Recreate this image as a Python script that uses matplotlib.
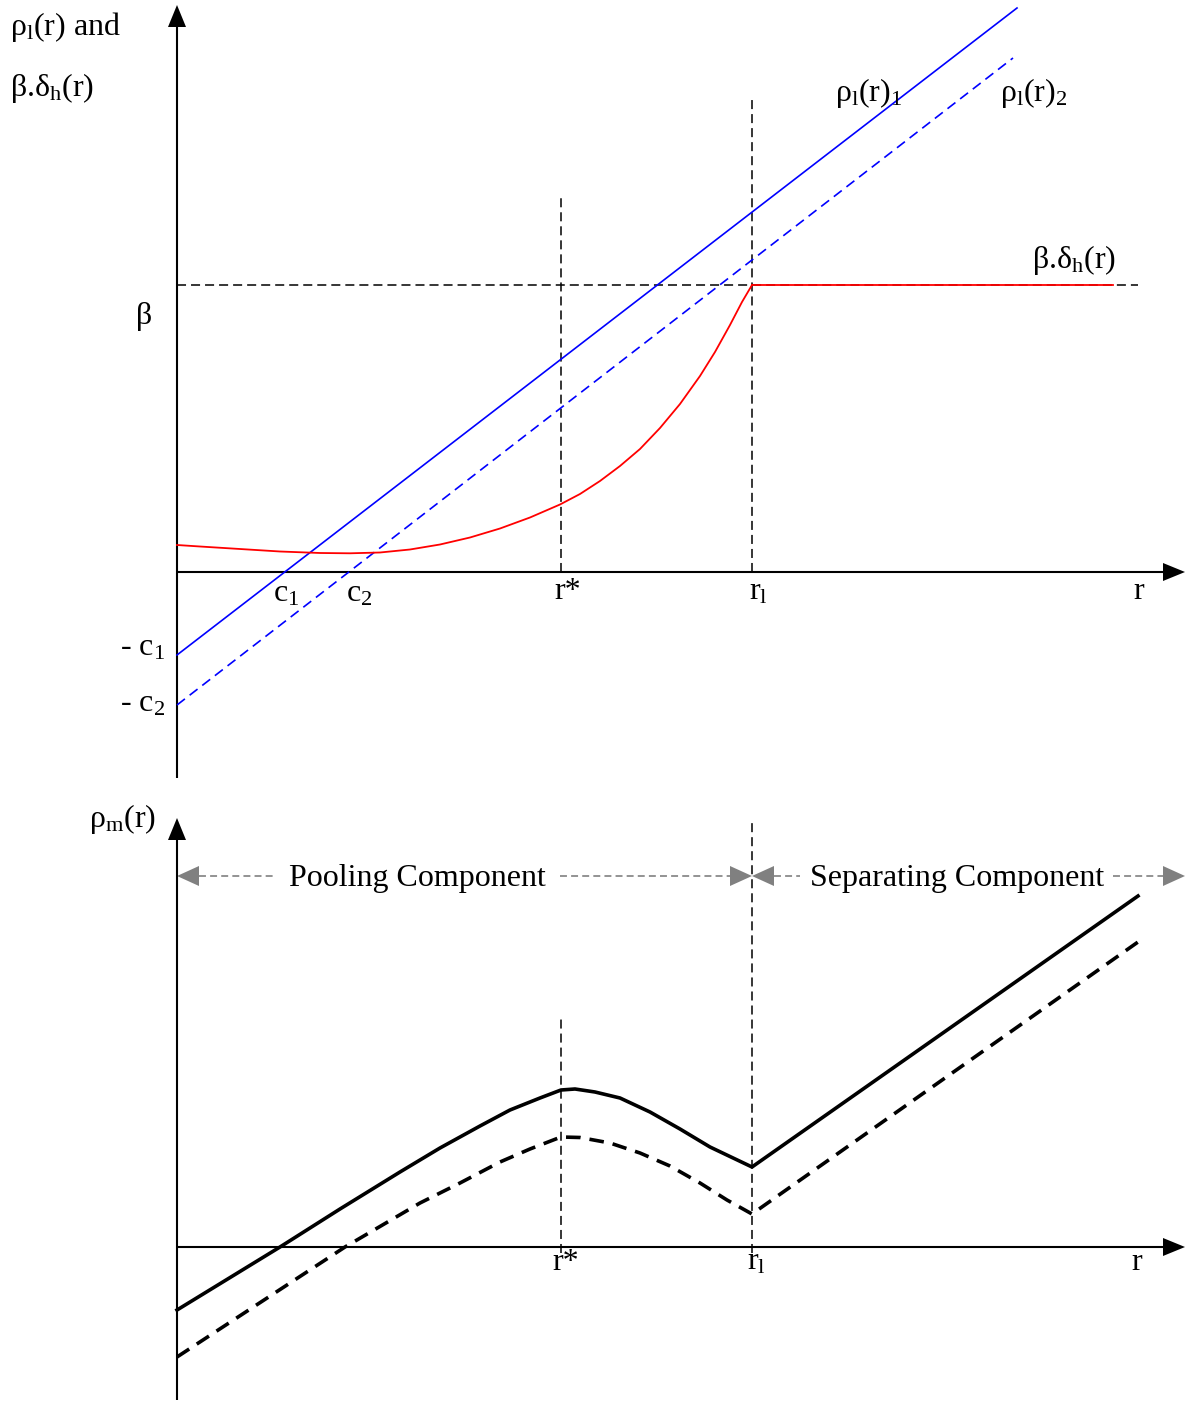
import matplotlib
matplotlib.use("Agg")
import matplotlib.pyplot as plt
import numpy as np
from matplotlib.patches import Polygon

plt.rcParams['font.family'] = ['Liberation Serif', 'DejaVu Serif']
plt.rcParams['mathtext.fontset'] = 'custom'
plt.rcParams['mathtext.rm'] = 'Liberation Serif'
plt.rcParams['mathtext.it'] = 'Liberation Serif:italic'
plt.rcParams['lines.scale_dashes'] = False

# ---------------- data (top panel, units relative to origin) ----------------
c1 = 108
c2 = 172
r_star = 384
r_l = 575
r_end = 961
beta = 287
rho1_r = [0, 840]
rho1_y = [-83, 564]
rho2_r = [0, 836]
rho2_y = [-133, 514]
delta_r = [0, 23, 63, 103, 143, 173, 203, 233, 263, 293, 323, 353, 383, 403,
           423, 443, 463, 483, 503, 523, 538, 553, 565, 575]
delta_y = [27, 25.5, 23, 20.5, 19, 18.7, 19.5, 22.5, 27.5, 34.5, 43.5, 54.5, 67.5, 78,
           91, 106, 123, 144, 168, 196, 220, 247, 270, 287]
delta_flat_r = [575, 936]
delta_flat_y = [287, 287]

# ---------------- data (bottom panel) ----------------
m1_r = [0, 103, 163, 223, 263, 303, 333, 363, 384, 398, 418, 443, 473, 503, 533,
        575, 961]
m1_y = [-63, 0, 38, 75, 99, 121, 137, 149, 157, 158, 155, 149, 135, 118, 100,
        80, 351]
m2_r = [0, 168, 243, 283, 323, 353, 384, 403, 433, 463, 493, 523, 550, 575, 961]
m2_y = [-110, 0, 44, 64, 85, 98, 110, 109.5, 104, 94, 81, 64, 47, 33, 305]

# ---------------- figure ----------------
W, H = 1187, 1402
fig = plt.figure(figsize=(W / 100, H / 100), dpi=100)
ox = 177
oy_top, oy_bot = 572, 1247
split = 790

ax1 = fig.add_axes([0, 1 - split / H, 1, split / H])
ax1.set_xlim(-ox, W - ox)
ax1.set_ylim(oy_top - split, oy_top)
ax2 = fig.add_axes([0, 0, 1, (H - split) / H])
ax2.set_xlim(-ox, W - ox)
ax2.set_ylim(oy_bot - H, oy_bot - split)
for ax in (ax1, ax2):
    ax.axis('off')

FS = 23
thin_dash = (6.5, 3.6)


def axis_arrows(ax, ybot, ytop, xright):
    ax.plot([0, 0], [ybot, ytop - 20], color='k', lw=1.5, solid_capstyle='butt')
    ax.add_patch(Polygon([[-9, ytop - 22], [9, ytop - 22], [0, ytop]], closed=True,
                         color='k', lw=0))
    ax.plot([0, xright - 20], [0, 0], color='k', lw=1.5, solid_capstyle='butt')
    ax.add_patch(Polygon([[xright - 22, -9], [xright - 22, 9], [xright, 0]], closed=True,
                         color='k', lw=0))


# ---- top panel ----
axis_arrows(ax1, oy_top - 778, oy_top - 5, W - ox - 2)
ax1.plot([0, r_end], [beta, beta], color='k', lw=1.1, dashes=thin_dash)
ax1.plot([r_star, r_star], [0, 377], color='k', lw=1.1, dashes=thin_dash)
ax1.plot([r_l, r_l], [0, 474], color='k', lw=1.1, dashes=thin_dash)
ax1.plot(rho1_r, rho1_y, color='#0000ff', lw=1.2)
ax1.plot(rho2_r, rho2_y, color='#0000ff', lw=1.2, dashes=(7.2, 4.3))
ax1.plot(delta_r, delta_y, color='#ff0000', lw=1.3, solid_joinstyle='round')
ax1.plot(delta_flat_r, delta_flat_y, color='#ff0000', lw=1.3)


def T(ax, px, py, oy, s, ha='left', va='baseline'):
    ax.text(px - ox, oy - py, s, fontsize=FS, ha=ha, va=va, color='k')


T(ax1, 10, 35, oy_top, r'ρ$_{\mathrm{l}}$(r) and')
T(ax1, 10, 96, oy_top, r'β.δ$_{\mathrm{h}}$(r)')
T(ax1, 835, 101, oy_top, r'ρ$_{\mathrm{l}}$(r)$_{1}$')
T(ax1, 1000, 101, oy_top, r'ρ$_{\mathrm{l}}$(r)$_{2}$')
T(ax1, 1032, 268, oy_top, r'β.δ$_{\mathrm{h}}$(r)')
T(ax1, 136, 324, oy_top, 'β')
T(ax1, 273, 601, oy_top, r'c$_{1}$')
T(ax1, 346, 601, oy_top, r'c$_{2}$')
T(ax1, 554, 599, oy_top, 'r*')
T(ax1, 749, 599, oy_top, r'r$_{\mathrm{l}}$')
T(ax1, 1133, 599, oy_top, 'r')
T(ax1, 120, 656, oy_top, r'- c$_{1}$')
T(ax1, 120, 711, oy_top, r'- c$_{2}$')

# ---- bottom panel ----
axis_arrows(ax2, oy_bot - 1400, oy_bot - 818, W - ox - 2)
ax2.plot([r_star, r_star], [-6, oy_bot - 1018], color='k', lw=1.1, dashes=thin_dash)
ax2.plot([r_l, r_l], [-6, oy_bot - 823], color='k', lw=1.1, dashes=thin_dash)
ax2.plot(m1_r, m1_y, color='k', lw=2.6, solid_joinstyle='round')
ax2.plot(m2_r, m2_y, color='k', lw=2.6, dashes=(10.5, 6.5))

gy = oy_bot - 876
gray = '#808080'
for seg in ([22, 98], [383, 553], [597, 623], [936, 986]):
    ax2.plot(seg, [gy, gy], color=gray, lw=1.2, dashes=(5, 3))
for tip, base in ((0, 22), (r_l, r_l - 22), (r_l, r_l + 22), (W - ox - 2, W - ox - 24)):
    ax2.add_patch(Polygon([[base, gy - 10], [base, gy + 10], [tip, gy]], closed=True,
                          color=gray, lw=0))

T(ax2, 417, 886, oy_bot, 'Pooling Component', ha='center')
T(ax2, 957, 886, oy_bot, 'Separating Component', ha='center')
T(ax2, 89, 827, oy_bot, r'ρ$_{\mathrm{m}}$(r)')
T(ax2, 552, 1270, oy_bot, 'r*')
T(ax2, 747, 1270, oy_bot, r'r$_{\mathrm{l}}$')
T(ax2, 1131, 1270, oy_bot, 'r')

fig.savefig('out.png', dpi=100)
